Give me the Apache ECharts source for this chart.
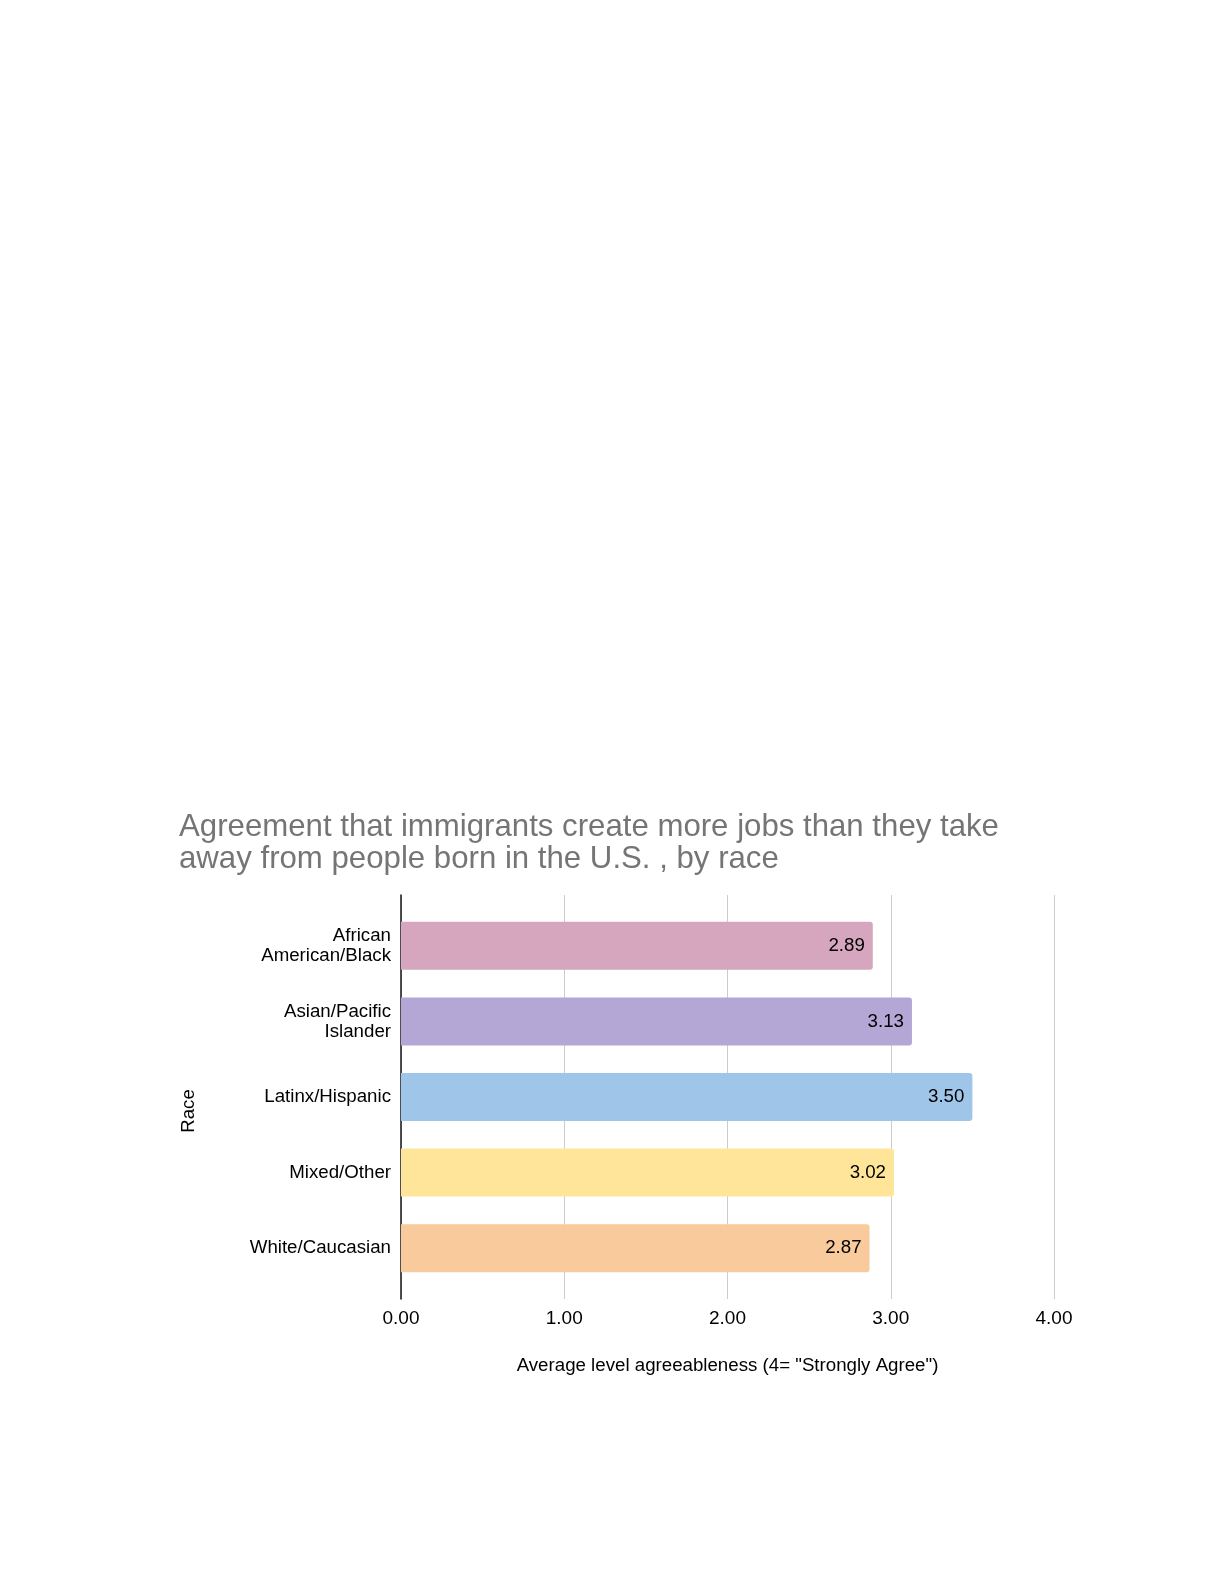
<!DOCTYPE html>
<html><head><meta charset="utf-8">
<script src="https://cdn.jsdelivr.net/npm/echarts@6/dist/echarts.min.js"></script>
<style>html,body{margin:0;padding:0;background:#fff}#c{width:1224px;height:1584px}</style>
</head><body><div id="c"></div>
<script>
const categories = ["African\nAmerican/Black", "Asian/Pacific\nIslander", "Latinx/Hispanic", "Mixed/Other", "White/Caucasian"];
const values = [2.89, 3.13, 3.50, 3.02, 2.87];
const colors = ["#d5a6bd", "#b4a7d6", "#9fc5e8", "#ffe599", "#f9cb9c"];
const xTicks = [0, 1, 2, 3, 4];

const FONT = 'Liberation Sans, Arial, sans-serif';
const chart = echarts.init(document.getElementById('c'));
chart.setOption({
  backgroundColor: '#fff',
  animation: false,
  title: {
    text: 'Agreement that immigrants create more jobs than they take\naway from people born in the U.S. , by race',
    left: 174, top: 807,
    textStyle: { fontFamily: FONT, fontSize: 31.2, fontWeight: 'normal', color: '#757575', lineHeight: 31.5 }
  },
  grid: [
    { left: 401, right: 170, top: 895, bottom: 285, containLabel: false },
    { left: 401, right: 170, top: 908, bottom: 298, containLabel: false }
  ],
  xAxis: [{
    gridIndex: 0, type: 'value', min: xTicks[0], max: xTicks[xTicks.length - 1], interval: 1,
    name: 'Average level agreeableness (4= "Strongly Agree")',
    nameLocation: 'middle', nameGap: 57,
    nameTextStyle: { fontFamily: FONT, fontSize: 18.7, color: '#000' },
    axisLine: { show: false }, axisTick: { show: false },
    axisLabel: { fontFamily: FONT, fontSize: 19, color: '#000', margin: 10,
      formatter: v => v.toFixed(2) },
    splitLine: { show: true, lineStyle: { color: '#cccccc', width: 1 } }
  }, {
    gridIndex: 1, type: 'value', min: xTicks[0], max: xTicks[xTicks.length - 1], interval: 1,
    show: false, splitLine: { show: false }
  }],
  yAxis: [{
    gridIndex: 0, type: 'value', min: 0, max: 1,
    name: 'Race', nameLocation: 'middle', nameGap: 203, nameRotate: 90,
    nameTextStyle: { fontFamily: FONT, fontSize: 18.7, color: '#000', padding: [0, 28, 0, 0] },
    axisLine: { show: true, lineStyle: { color: '#222', width: 1.6 } },
    axisTick: { show: false }, axisLabel: { show: false }, splitLine: { show: false }
  }, {
    gridIndex: 1, type: 'category', data: categories, inverse: true,
    axisLine: { show: false }, axisTick: { show: false },
    axisLabel: { fontFamily: FONT, fontSize: 18.7, color: '#000', margin: 10, lineHeight: 20, align: 'right' }
  }],
  series: [{
    type: 'bar', xAxisIndex: 1, yAxisIndex: 1,
    data: values.map((v, i) => ({ value: v, itemStyle: { color: colors[i] } })),
    barWidth: 48,
    itemStyle: { borderRadius: [0, 3, 3, 0] },
    label: { show: true, position: 'insideRight', distance: 8, formatter: p => p.value.toFixed(2),
      fontFamily: FONT, fontSize: 18.7, color: '#000' }
  }]
});
</script></body></html>
